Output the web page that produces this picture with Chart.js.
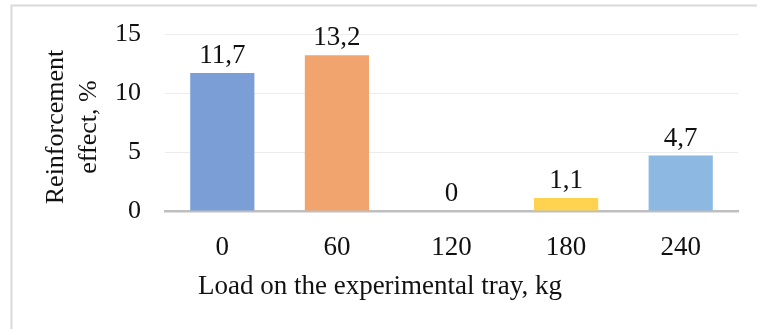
<!DOCTYPE html>
<html>
<head>
<meta charset="utf-8">
<script src="https://cdn.jsdelivr.net/npm/chart.js@4.4.1/dist/chart.umd.min.js"></script>
<style>
  html, body { margin: 0; padding: 0; background: #fff; overflow: hidden; }
  #wrap { width: 757px; height: 329px; position: relative; }
</style>
</head>
<body>
<div id="wrap"><canvas id="chart" width="757" height="329"></canvas></div>
<script>
// Load on the tray (kg) and measured reinforcement effect (%)
const loads = ['0', '60', '120', '180', '240'];
const effect = [11.7, 13.2, 0, 1.1, 4.7];
const barColors = ['#7b9ed6', '#f1a46e', '#c0c0c0', '#ffd34f', '#8db8e2'];
const yTickValues = [0, 5, 10, 15];
const xTitle = 'Load on the experimental tray, kg';
const yTitle = ['Reinforcement', 'effect, %'];

const FONT = '"Liberation Serif", "Times New Roman", serif';
const TEXT = '#111111';

const fmt = v => String(v).replace('.', ',');

// Light frame around the whole figure
const framePlugin = {
  id: 'frame',
  beforeDraw(chart) {
    const ctx = chart.ctx;
    ctx.save();
    ctx.strokeStyle = '#d9d9d9';
    ctx.lineWidth = 2;
    ctx.strokeRect(11.5, 5.5, 900, 500);
    ctx.restore();
  }
};

// Value printed above each bar
const valueLabels = {
  id: 'valueLabels',
  afterDatasetsDraw(chart) {
    const ctx = chart.ctx;
    const meta = chart.getDatasetMeta(0);
    ctx.save();
    ctx.font = '27px ' + FONT;
    ctx.fillStyle = TEXT;
    ctx.textAlign = 'center';
    ctx.textBaseline = 'alphabetic';
    meta.data.forEach((bar, i) => {
      ctx.fillText(fmt(chart.data.datasets[0].data[i]), bar.x, bar.y - 10);
    });
    ctx.restore();
  }
};

// Axis titles, centred the way the office chart places them
const axisTitles = {
  id: 'axisTitles',
  afterDraw(chart) {
    const ctx = chart.ctx;
    ctx.save();
    ctx.fillStyle = TEXT;
    ctx.textAlign = 'center';
    ctx.textBaseline = 'alphabetic';
    ctx.font = '27px ' + FONT;
    ctx.fillText(xTitle, 380, 294);
    ctx.font = '26px ' + FONT;
    ctx.translate(63, 127);
    ctx.rotate(-Math.PI / 2);
    yTitle.forEach((line, i) => ctx.fillText(line, 0, i * 33));
    ctx.restore();
  }
};

const PAD = { left: 20, right: 19, top: 34, bottom: 10 };

new Chart(document.getElementById('chart'), {
  type: 'bar',
  data: {
    labels: loads,
    datasets: [{
      data: effect,
      backgroundColor: barColors,
      borderWidth: 0,
      categoryPercentage: 1,
      barPercentage: 0.56
    }]
  },
  options: {
    responsive: false,
    animation: false,
    devicePixelRatio: 1,
    layout: { padding: PAD },
    plugins: {
      legend: { display: false },
      tooltip: { enabled: false }
    },
    scales: {
      x: {
        grid: { display: false, drawTicks: false },
        border: { display: true, color: '#bfbfbf', width: 2.5 },
        ticks: {
          color: TEXT,
          font: { family: FONT, size: 27 },
          padding: 21
        },
        afterFit(scale) {
          scale.height = 329 - PAD.bottom - 211;
          scale.paddingLeft = 0;
          scale.paddingRight = 0;
        }
      },
      y: {
        min: 0,
        max: 15,
        afterBuildTicks(scale) { scale.ticks = yTickValues.map(v => ({ value: v })); },
        grid: {
          drawTicks: false,
          color: ctx => (ctx.tick && ctx.tick.value === 0) ? 'rgba(0,0,0,0)' : '#ececec',
          lineWidth: 1
        },
        border: { display: false },
        ticks: {
          color: TEXT,
          font: { family: FONT, size: 26 },
          padding: 24
        },
        afterFit(scale) {
          scale.width = 165 - PAD.left;
          scale.paddingTop = 0;
          scale.paddingBottom = 0;
        }
      }
    }
  },
  plugins: [framePlugin, valueLabels, axisTitles]
});
</script>
</body>
</html>
